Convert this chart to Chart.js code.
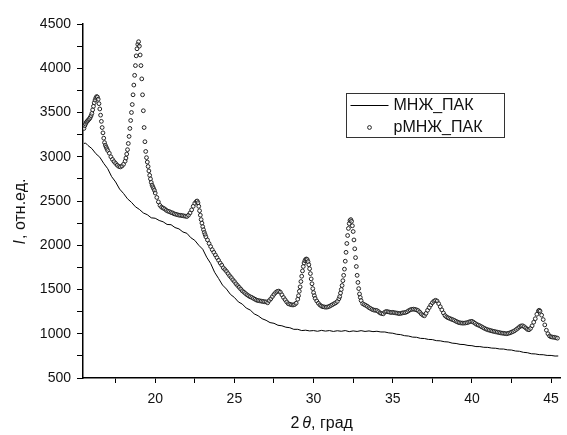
<!DOCTYPE html>
<html><head><meta charset="utf-8">
<script src="https://cdn.jsdelivr.net/npm/chart.js@4.4.0/dist/chart.umd.min.js"></script>
<style>html,body{margin:0;padding:0;background:#fff;}#wrap{width:567px;height:435px;position:relative;}</style>
</head><body><div id="wrap"><canvas id="c" width="567" height="435"></canvas></div>
<script>
const seriesNames = ['МНЖ_ПАК', 'рМНЖ_ПАК'];
const xTitle = ['2', 'θ', ', град'];
const yTitle = ['I', ', отн.ед.'];

// МНЖ_ПАК (solid line)
const lineX = [15.50,15.60,15.75,16.00,16.25,16.50,16.75,17.00,17.25,17.50,17.75,18.00,18.25,18.50,18.75,19.00,19.25,19.50,19.75,20.00,20.25,20.50,20.75,21.00,21.25,21.50,21.75,22.00,22.25,22.50,22.75,23.00,23.25,23.50,23.75,24.00,24.25,24.50,24.75,25.00,25.25,25.50,25.75,26.00,26.25,26.50,26.75,27.00,27.25,27.50,27.75,28.00,28.25,28.50,28.75,29.00,29.25,29.50,29.75,30.00,30.25,30.50,30.75,31.00,31.25,31.50,31.75,32.00,32.25,32.50,32.75,33.00,33.25,33.50,33.75,34.00,34.25,34.50,34.75,35.00,35.25,35.50,35.75,36.00,36.25,36.50,36.75,37.00,37.25,37.50,37.75,38.00,38.25,38.50,38.75,39.00,39.25,39.50,39.75,40.00,40.25,40.50,40.75,41.00,41.25,41.50,41.75,42.00,42.25,42.50,42.75,43.00,43.25,43.50,43.75,44.00,44.25,44.50,44.75,45.00,45.25,45.45];
const lineY = [3150,3155,3128,3092,3035,2995,2925,2865,2775,2715,2635,2585,2525,2485,2435,2405,2365,2345,2310,2305,2280,2265,2235,2232,2200,2185,2150,2135,2085,2055,2000,1955,1865,1795,1695,1625,1550,1505,1445,1410,1360,1335,1290,1268,1225,1203,1170,1152,1126,1118,1096,1090,1074,1068,1050,1050,1036,1040,1032,1036,1028,1038,1030,1036,1026,1034,1028,1036,1024,1032,1026,1035,1026,1032,1024,1028,1020,1020,1010,1006,994,990,978,974,962,960,948,946,936,934,922,920,910,907,894,890,880,878,868,865,855,855,847,846,838,836,828,827,818,816,805,802,790,786,774,772,764,763,755,755,748,749];

// рМНЖ_ПАК (open circles)
const circX = [15.50,15.55,15.60,15.65,15.70,15.75,15.80,15.85,15.90,15.95,16.00,16.05,16.10,16.15,16.20,16.25,16.30,16.35,16.40,16.45,16.50,16.55,16.60,16.65,16.70,16.75,16.80,16.85,16.90,16.95,17.00,17.10,17.20,17.30,17.40,17.50,17.60,17.70,17.80,17.90,18.00,18.10,18.15,18.20,18.25,18.30,18.35,18.40,18.45,18.50,18.55,18.60,18.65,18.70,18.75,18.80,18.85,18.90,18.95,19.00,19.05,19.10,19.15,19.20,19.25,19.30,19.35,19.40,19.45,19.50,19.55,19.60,19.65,19.70,19.75,19.80,19.85,19.90,19.95,20.00,20.10,20.20,20.30,20.40,20.50,20.60,20.70,20.80,20.90,21.00,21.10,21.20,21.30,21.40,21.50,21.60,21.70,21.80,21.90,22.00,22.10,22.20,22.30,22.40,22.50,22.60,22.65,22.70,22.75,22.80,22.85,22.90,22.95,23.00,23.05,23.10,23.15,23.20,23.30,23.40,23.50,23.60,23.70,23.80,23.90,24.00,24.10,24.20,24.30,24.40,24.50,24.60,24.70,24.80,24.90,25.00,25.10,25.20,25.30,25.40,25.50,25.60,25.70,25.80,25.90,26.00,26.10,26.20,26.30,26.40,26.50,26.60,26.70,26.80,26.90,27.00,27.10,27.20,27.30,27.40,27.50,27.60,27.70,27.80,27.90,28.00,28.10,28.20,28.30,28.40,28.50,28.60,28.70,28.80,28.90,29.00,29.05,29.10,29.15,29.20,29.25,29.30,29.35,29.40,29.45,29.50,29.55,29.60,29.65,29.70,29.75,29.80,29.85,29.90,29.95,30.00,30.05,30.10,30.20,30.30,30.40,30.50,30.60,30.70,30.80,30.90,31.00,31.10,31.20,31.30,31.40,31.50,31.60,31.65,31.70,31.75,31.80,31.85,31.90,31.95,32.00,32.05,32.10,32.15,32.20,32.25,32.30,32.35,32.40,32.45,32.50,32.55,32.60,32.65,32.70,32.75,32.80,32.85,32.90,32.95,33.00,33.10,33.20,33.30,33.40,33.50,33.60,33.70,33.80,33.90,34.00,34.10,34.20,34.30,34.40,34.50,34.60,34.70,34.80,34.90,35.00,35.10,35.20,35.30,35.40,35.50,35.60,35.70,35.80,35.90,36.00,36.10,36.20,36.30,36.40,36.50,36.60,36.70,36.80,36.90,37.00,37.10,37.20,37.30,37.40,37.50,37.60,37.70,37.80,37.90,38.00,38.10,38.20,38.30,38.40,38.50,38.60,38.70,38.80,38.90,39.00,39.10,39.20,39.30,39.40,39.50,39.60,39.70,39.80,39.90,40.00,40.10,40.20,40.30,40.40,40.50,40.60,40.70,40.80,40.90,41.00,41.10,41.20,41.30,41.40,41.50,41.60,41.70,41.80,41.90,42.00,42.10,42.20,42.30,42.40,42.50,42.60,42.70,42.80,42.90,43.00,43.10,43.20,43.30,43.40,43.50,43.60,43.70,43.80,43.90,44.00,44.10,44.20,44.25,44.30,44.40,44.50,44.60,44.70,44.80,44.90,45.00,45.10,45.20,45.30,45.40];
const circY = [3320,3350,3370,3390,3400,3410,3420,3430,3445,3465,3490,3530,3570,3610,3640,3665,3680,3675,3650,3600,3540,3470,3400,3330,3270,3210,3160,3130,3110,3090,3070,3040,3000,2970,2945,2925,2905,2890,2885,2895,2915,2950,2985,3030,3080,3150,3230,3320,3410,3500,3590,3700,3810,3920,4030,4140,4220,4270,4300,4250,4150,4030,3880,3700,3520,3330,3170,3060,2990,2940,2890,2840,2790,2750,2710,2680,2660,2640,2620,2590,2540,2490,2450,2430,2420,2410,2395,2385,2380,2370,2365,2355,2350,2345,2340,2338,2335,2332,2328,2325,2340,2365,2400,2440,2475,2495,2500,2480,2440,2390,2340,2290,2250,2210,2175,2145,2120,2095,2060,2020,1985,1950,1920,1890,1860,1830,1800,1775,1745,1725,1705,1680,1655,1635,1610,1590,1565,1545,1525,1505,1485,1470,1455,1440,1428,1418,1410,1400,1390,1380,1375,1372,1368,1365,1362,1360,1350,1375,1395,1420,1445,1465,1478,1482,1470,1440,1410,1385,1360,1340,1333,1328,1325,1330,1345,1390,1430,1480,1530,1590,1650,1710,1760,1800,1825,1840,1845,1838,1815,1780,1735,1680,1620,1565,1510,1465,1430,1400,1370,1345,1325,1312,1305,1302,1300,1303,1310,1320,1330,1340,1350,1365,1395,1420,1460,1500,1545,1600,1660,1730,1820,1920,2020,2110,2190,2245,2280,2290,2270,2220,2155,2060,1960,1860,1760,1660,1580,1510,1450,1410,1375,1340,1330,1320,1310,1295,1285,1275,1268,1265,1262,1250,1235,1228,1225,1245,1252,1248,1244,1240,1242,1238,1235,1232,1228,1230,1235,1238,1240,1248,1260,1270,1276,1278,1275,1270,1262,1245,1225,1210,1203,1230,1265,1295,1325,1350,1368,1378,1370,1340,1305,1270,1235,1205,1190,1180,1172,1165,1158,1150,1140,1132,1125,1122,1120,1120,1122,1125,1132,1138,1140,1130,1118,1105,1098,1090,1080,1070,1060,1052,1045,1040,1035,1030,1026,1022,1018,1014,1010,1007,1005,1002,1000,1005,1010,1018,1025,1035,1048,1062,1078,1088,1090,1080,1065,1050,1045,1060,1090,1130,1170,1220,1258,1265,1255,1210,1160,1100,1040,1000,975,965,962,960,955,950];

const xMajor = [20, 25, 30, 35, 40, 45];
const xMinor = [17.5, 22.5, 27.5, 32.5, 37.5, 42.5];
const yMajor = [500, 1000, 1500, 2000, 2500, 3000, 3500, 4000, 4500];
const yMinor = [750, 1250, 1750, 2250, 2750, 3250, 3750, 4250];
const xRange = [15.44, 45.58];
const yRange = [500, 4500];

const FONT = '"Liberation Sans", Arial, sans-serif';
const INK = '#111';

const titlesAndLegend = {
  id: 'titlesAndLegend',
  afterDraw(chart) {
    const ctx = chart.ctx, a = chart.chartArea;
    ctx.save();
    ctx.fillStyle = INK;
    const fN = '16px ' + FONT, fI = 'italic 16px ' + FONT;
    // x title
    ctx.textBaseline = 'alphabetic'; ctx.textAlign = 'left';
    ctx.font = fN; const w0 = ctx.measureText(xTitle[0]).width + 3;
    ctx.font = fI; const w1 = ctx.measureText(xTitle[1]).width;
    ctx.font = fN; const w2 = ctx.measureText(xTitle[2]).width;
    let x = (a.left + a.right) / 2 - (w0 + w1 + w2) / 2;
    const yb = 428;
    ctx.font = fN; ctx.fillText(xTitle[0], x, yb); x += w0;
    ctx.font = fI; ctx.fillText(xTitle[1], x, yb); x += w1;
    ctx.font = fN; ctx.fillText(xTitle[2], x, yb);
    // y title
    ctx.save();
    ctx.translate(25, (a.top + a.bottom) / 2 + 11);
    ctx.rotate(-Math.PI / 2);
    ctx.font = fI; const v0 = ctx.measureText(yTitle[0]).width;
    ctx.font = fN; const v1 = ctx.measureText(yTitle[1]).width;
    let yx = -(v0 + v1) / 2;
    ctx.font = fI; ctx.fillText(yTitle[0], yx, 0); yx += v0 + 1;
    ctx.font = fN; ctx.fillText(yTitle[1], yx, 0);
    ctx.restore();
    // legend box
    const bx = 346.5, by = 93.5, bw = 158, bh = 44;
    ctx.strokeStyle = '#333'; ctx.lineWidth = 1;
    ctx.strokeRect(bx, by, bw, bh);
    ctx.strokeStyle = '#000';
    ctx.beginPath(); ctx.moveTo(bx + 4, by + 12); ctx.lineTo(bx + 42, by + 12); ctx.stroke();
    ctx.beginPath(); ctx.lineWidth = 1; ctx.strokeStyle = '#222';
    ctx.arc(bx + 23, by + 34, 1.9, 0, Math.PI * 2); ctx.stroke();
    ctx.font = fN; ctx.textBaseline = 'middle'; ctx.textAlign = 'left';
    ctx.fillText(seriesNames[0], bx + 47, by + 12);
    ctx.fillText(seriesNames[1], bx + 47, by + 34);
    ctx.restore();
  }
};

new Chart(document.getElementById('c'), {
  type: 'scatter',
  data: {
    datasets: [
      {
        label: seriesNames[0],
        data: lineX.map((v, i) => ({x: v, y: lineY[i]})),
        showLine: true, borderColor: '#000', borderWidth: 1, pointRadius: 0, tension: 0, order: 2
      },
      {
        label: seriesNames[1],
        data: circX.map((v, i) => ({x: v, y: circY[i]})),
        showLine: false, pointStyle: 'circle', pointRadius: 1.9, pointBorderWidth: 1,
        pointBorderColor: '#222', pointBackgroundColor: 'rgba(255,255,255,0.5)', order: 1
      }
    ]
  },
  options: {
    responsive: false, devicePixelRatio: 1, animation: false,
    layout: {padding: {top: 24, right: 1, left: 0, bottom: 0}},
    plugins: {legend: {display: false}, tooltip: {enabled: false}, title: {display: false}},
    scales: {
      x: {
        type: 'linear', min: xRange[0], max: xRange[1],
        afterBuildTicks: s => { s.ticks = [...xMinor, ...xMajor].sort((p, q) => p - q).map(v => ({value: v})); },
        afterFit: s => { s.height = 57; },
        ticks: {autoSkip: false, maxRotation: 0, padding: 8, color: INK, font: {family: FONT, size: 14},
          callback: v => xMajor.includes(v) ? String(v) : ''},
        grid: {drawOnChartArea: false, drawTicks: true, tickLength: 5, tickColor: '#000', tickWidth: 1},
        border: {display: true, color: '#000', width: 1.5}
      },
      y: {
        type: 'linear', min: yRange[0], max: yRange[1],
        afterBuildTicks: s => { s.ticks = [...yMinor, ...yMajor].sort((p, q) => p - q).map(v => ({value: v})); },
        afterFit: s => { s.width = 83; },
        ticks: {autoSkip: false, padding: 6, color: INK, font: {family: FONT, size: 14},
          callback: v => yMajor.includes(v) ? String(v) : ''},
        grid: {drawOnChartArea: false, drawTicks: true, tickLength: 6, tickColor: '#000', tickWidth: 1},
        border: {display: true, color: '#000', width: 1.5}
      }
    }
  },
  plugins: [titlesAndLegend]
});
</script></body></html>
